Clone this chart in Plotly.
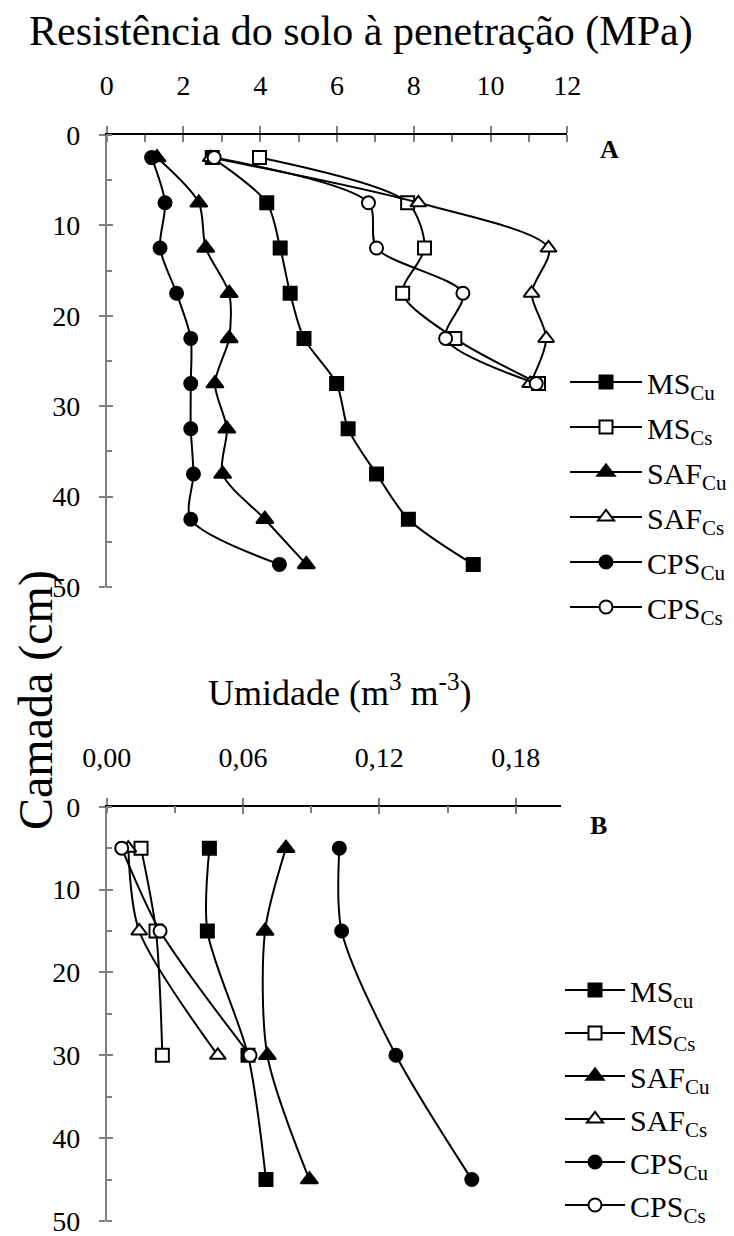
import plotly.graph_objects as go

# ---------------- data ----------------
depth_a_cu = [2.5, 7.5, 12.5, 17.5, 22.5, 27.5, 32.5, 37.5, 42.5, 47.5]
depth_a_cs = [2.5, 7.5, 12.5, 17.5, 22.5, 27.5]
ms_cu_a = [2.75, 4.17, 4.52, 4.78, 5.14, 5.99, 6.29, 7.03, 7.86, 9.55]
ms_cs_a = [3.98, 7.84, 8.28, 7.71, 9.07, 11.25]
saf_cu_a = [1.31, 2.40, 2.58, 3.19, 3.19, 2.82, 3.13, 3.02, 4.12, 5.20]
saf_cs_a = [2.71, 8.12, 11.51, 11.07, 11.45, 11.03]
cps_cu_a = [1.17, 1.52, 1.39, 1.82, 2.19, 2.19, 2.19, 2.26, 2.19, 4.50]
cps_cs_a = [2.80, 6.82, 7.03, 9.28, 8.83, 11.19]

depth_b_cu = [5, 15, 30, 45]
depth_b_cs = [5, 15, 30]
ms_cu_b = [0.0452, 0.0443, 0.0622, 0.0701]
ms_cs_b = [0.0151, 0.0217, 0.0245]
saf_cu_b = [0.0789, 0.0697, 0.0707, 0.0892]
saf_cs_b = [0.0095, 0.0143, 0.0489]
cps_cu_b = [0.1024, 0.1034, 0.1273, 0.1607]
cps_cs_b = [0.0066, 0.0235, 0.0631]

names_a = ["MS<sub>Cu</sub>", "MS<sub>Cs</sub>", "SAF<sub>Cu</sub>", "SAF<sub>Cs</sub>",
           "CPS<sub>Cu</sub>", "CPS<sub>Cs</sub>"]
names_b = ["MS<sub>cu</sub>", "MS<sub>Cs</sub>", "SAF<sub>Cu</sub>", "SAF<sub>Cs</sub>",
           "CPS<sub>Cu</sub>", "CPS<sub>Cs</sub>"]

x_ticks_a = [0, 2, 4, 6, 8, 10, 12]
x_ticks_b = [0.0, 0.06, 0.12, 0.18]
y_ticks = [0, 10, 20, 30, 40, 50]

# ---------------- styling ----------------
FONT = "Liberation Serif, Times New Roman, DejaVu Serif, serif"
OFF = 8                      # default body margin of the html page
FW, FH = 734 - OFF, 1236

def PX(x):
    return (x - OFF) / FW

def PY(y):
    return 1 - (y - OFF) / FH

styles = [
    dict(symbol="square", size=13, color="black", line=dict(color="black", width=2)),
    dict(symbol="square", size=13, color="white", line=dict(color="black", width=2)),
    dict(symbol="triangle-up", size=15, color="black", line=dict(color="black", width=2)),
    dict(symbol="triangle-up", size=14, color="white", line=dict(color="black", width=2)),
    dict(symbol="circle", size=13, color="black", line=dict(color="black", width=2)),
    dict(symbol="circle", size=13, color="white", line=dict(color="black", width=2)),
]

fig = go.Figure()

series_a = [(ms_cu_a, depth_a_cu), (ms_cs_a, depth_a_cs), (saf_cu_a, depth_a_cu),
            (saf_cs_a, depth_a_cs), (cps_cu_a, depth_a_cu), (cps_cs_a, depth_a_cs)]
series_b = [(ms_cu_b, depth_b_cu), (ms_cs_b, depth_b_cs), (saf_cu_b, depth_b_cu),
            (saf_cs_b, depth_b_cs), (cps_cu_b, depth_b_cu), (cps_cs_b, depth_b_cs)]

for i, (xs, ys) in enumerate(series_a):
    fig.add_trace(go.Scatter(
        x=xs, y=ys, mode="lines+markers", name=names_a[i],
        line=dict(color="black", width=2, shape="spline", smoothing=0.8),
        marker=styles[i], xaxis="x", yaxis="y", legend="legend",
        legendgroup="a%d" % i))

for i, (xs, ys) in enumerate(series_b):
    fig.add_trace(go.Scatter(
        x=xs, y=ys, mode="lines+markers", name=names_b[i],
        line=dict(color="black", width=2, shape="spline", smoothing=0.8),
        marker=styles[i], xaxis="x2", yaxis="y2", legend="legend2",
        legendgroup="b%d" % i))

# empty traces so the overlay (crossing-tick) axes are rendered
fig.add_trace(go.Scatter(x=[], y=[], xaxis="x3", yaxis="y3", showlegend=False, hoverinfo="skip"))
fig.add_trace(go.Scatter(x=[], y=[], xaxis="x4", yaxis="y4", showlegend=False, hoverinfo="skip"))

xdom_a = [PX(106.7), PX(567.3)]
xdom_b = [PX(106.7), PX(561.1)]
ydom_a = [PY(587.0), PY(135.0)]
ydom_b = [PY(1221.0), PY(806.7)]

tickfont = dict(family=FONT, size=28, color="black")
GRAY = "#7f7f7f"

def xax(dom, rng, tv, anchor, minor_dtick, fmt=None):
    d = dict(domain=dom, range=rng, side="top", anchor=anchor, automargin=False,
             showline=True, linecolor="black", linewidth=1.5, mirror=False,
             tickvals=tv, ticks="outside", ticklen=7, tickwidth=1.5, tickcolor=GRAY,
             minor=dict(dtick=minor_dtick, ticks="inside", ticklen=7, tickwidth=1.5,
                        tickcolor=GRAY, tick0=0),
             showgrid=False, zeroline=False, tickfont=tickfont, ticklabelstandoff=20,
             ticklabeloverflow="allow")
    if fmt:
        d["tickformat"] = fmt
    return d

def yax(dom, anchor):
    return dict(domain=dom, range=[50, 0], anchor=anchor, automargin=False,
                showline=True, linecolor=GRAY, linewidth=1.5,
                tickvals=y_ticks, ticks="outside", ticklen=6, tickwidth=1.5, tickcolor=GRAY,
                minor=dict(dtick=5, ticks="inside", ticklen=6, tickwidth=1.5,
                           tickcolor=GRAY, tick0=0),
                showgrid=False, zeroline=False, tickfont=tickfont, ticklabelstandoff=13,
                ticklabeloverflow="allow")

def overlay_x(dom, rng, tv, over, anchor):
    return dict(domain=dom, range=rng, overlaying=over, anchor=anchor, side="top",
                tickvals=tv, ticks="inside", ticklen=7, tickwidth=1.5, tickcolor=GRAY,
                showticklabels=False, showline=False, showgrid=False, zeroline=False)

def overlay_y(dom, over, anchor):
    return dict(domain=dom, range=[50, 0], overlaying=over, anchor=anchor,
                tickvals=y_ticks, ticks="inside", ticklen=6, tickwidth=1.5, tickcolor=GRAY,
                showticklabels=False, showline=False, showgrid=False, zeroline=False)

fig.update_layout(
    width=FW, height=FH,
    margin=dict(l=0, r=0, t=0, b=0, autoexpand=False),
    paper_bgcolor="white", plot_bgcolor="white",
    separators=",.",
    font=dict(family=FONT, color="black"),
    xaxis=xax(xdom_a, [0, 12], x_ticks_a, "y", 1),
    yaxis=yax(ydom_a, "x"),
    xaxis2=xax(xdom_b, [0, 0.2], x_ticks_b, "y2", 0.03, ".2f"),
    yaxis2=yax(ydom_b, "x2"),
    xaxis3=overlay_x(xdom_a, [0, 12], x_ticks_a, "x", "y3"),
    yaxis3=overlay_y(ydom_a, "y", "x3"),
    xaxis4=overlay_x(xdom_b, [0, 0.2], x_ticks_b, "x2", "y4"),
    yaxis4=overlay_y(ydom_b, "y2", "x4"),
    legend=dict(x=PX(565), y=PY(356), xanchor="left", yanchor="top",
                bgcolor="rgba(0,0,0,0)", itemwidth=72, tracegroupgap=3,
                font=dict(family=FONT, size=30, color="black")),
    legend2=dict(x=PX(560), y=PY(964), xanchor="left", yanchor="top",
                 bgcolor="rgba(0,0,0,0)", itemwidth=60, tracegroupgap=1,
                 font=dict(family=FONT, size=30, color="black")),
    showlegend=True,
)

ann = [
    dict(text="Resistência do solo à penetração (MPa)", x=PX(361), y=PY(32),
         font=dict(size=42)),
    dict(text="Umidade (m<sup>3</sup> m<sup>-3</sup>)", x=PX(340), y=PY(690),
         font=dict(size=36)),
    dict(text="Camada (cm)", x=PX(36), y=PY(700), textangle=-90, font=dict(size=48)),
    dict(text="<b>A</b>", x=PX(609), y=PY(149), font=dict(size=26)),
    dict(text="<b>B</b>", x=PX(598), y=PY(825), font=dict(size=26)),
]
for a in ann:
    a.update(xref="paper", yref="paper", showarrow=False, xanchor="center", yanchor="middle")
    a["font"].update(family=FONT, color="black")
fig.update_layout(annotations=ann)

fig.write_html("out.html")
